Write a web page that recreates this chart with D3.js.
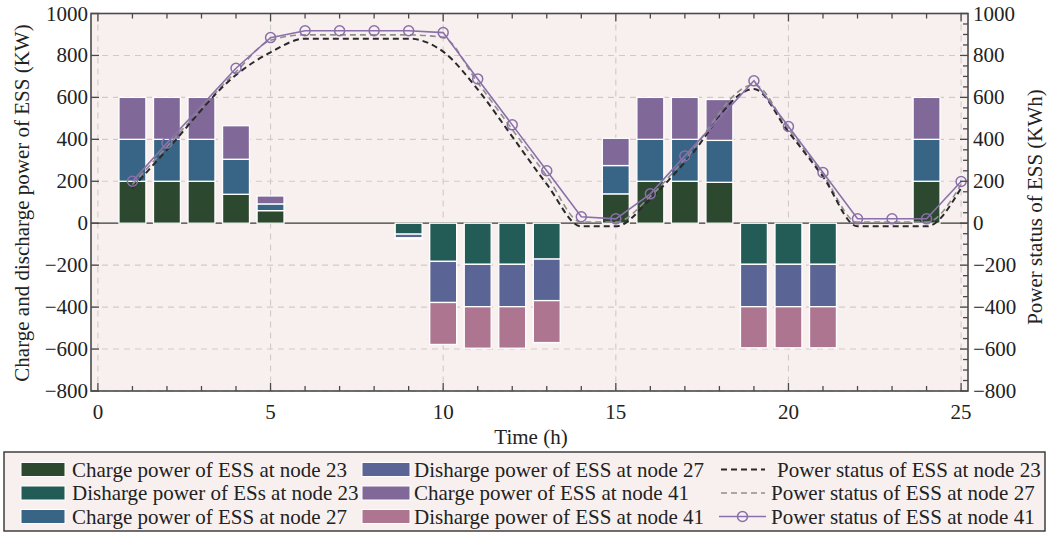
<!DOCTYPE html>
<html>
<head>
<meta charset="utf-8">
<script src="https://cdn.jsdelivr.net/npm/d3@7"></script>
<style>
  html, body { margin: 0; padding: 0; background: #ffffff; }
  svg { display: block; }
  text { font-family: "Liberation Serif", "Times New Roman", serif; fill: #222; }
</style>
</head>
<body>
<svg id="chart" width="1049" height="534"></svg>
<script>
// Hours of the day at which ESS charge / discharge power is scheduled
const hours = [1,2,3,4,5,6,7,8,9,10,11,12,13,14,15,16,17,18,19,20,21,22,23,24];

// Charge power (KW), positive
const charge23 = [200,200,200,138,60,0,0,0,0,0,0,0,0,0,140,200,200,195,0,0,0,0,0,200];
const charge27 = [200,200,200,167,32,0,0,0,0,0,0,0,0,0,135,200,200,200,0,0,0,0,0,200];
const charge41 = [200,200,200,160,38,0,0,0,0,0,0,0,0,0,130,200,200,195,0,0,0,0,0,200];

// Discharge power (KW), negative
const discharge23 = [0,0,0,0,0,0,0,0,-52,-182,-196,-196,-171,0,0,0,0,0,-196,-196,-196,0,0,0];
const discharge27 = [0,0,0,0,0,0,0,0,-18,-196,-202,-202,-198,0,0,0,0,0,-202,-202,-202,0,0,0];
const discharge41 = [0,0,0,0,0,0,0,0,-6,-200,-198,-198,-200,0,0,0,0,0,-196,-196,-196,0,0,0];

// Stored energy of each ESS (KWh)
const statusHours = [1,2,4,5,6,7,8,9,10,11,12,13,14,15,16,17,19,20,21,22,23,24,25];
const status23 = [168,350,707,815,880,880,880,880,818,638,413,186,-15,-15,115,290,640,435,222,-15,-15,-15,168];
const status27 = [185,365,722,872,898,898,898,898,885,670,447,225,5,5,128,305,660,448,232,5,5,5,185];
const status41 = [200,382,739,885,918,918,918,918,909,688,469,250,31,21,140,321,679,461,242,21,21,21,199];

// Axis ticks
const xTicks = [0,5,10,15,20,25];
const yTicks = [-800,-600,-400,-200,0,200,400,600,800,1000];

const barKeys = ["c23","d23","c27","d27","c41","d41"];
const barColors = {
  c23: "#2c482e", d23: "#235c57",
  c27: "#386585", d27: "#5a6595",
  c41: "#806898", d41: "#ae7591"
};
const barLabels = {
  c23: "Charge power of ESS at node 23",
  d23: "Disharge power of ESs at node 23",
  c27: "Charge power of ESS at node 27",
  d27: "Disharge power of ESS at node 27",
  c41: "Charge power of ESS at node 41",
  d41: "Disharge power of ESS at node 41"
};
const lineLabels = [
  "Power status of ESS at node 23",
  "Power status of ESS at node 27",
  "Power status of ESS at node 41"
];

const rows = hours.map((h, i) => ({
  hour: h,
  c23: charge23[i], d23: discharge23[i],
  c27: charge27[i], d27: discharge27[i],
  c41: charge41[i], d41: discharge41[i]
}));

const svg = d3.select("#chart");
const plot = { left: 91, right: 968, top: 13.5, bottom: 391 };

const x = d3.scaleLinear().domain([-0.2, 25.2]).range([plot.left, plot.right]);
const y = d3.scaleLinear().domain([-800, 1000]).range([plot.bottom, plot.top]);

// Plot background
svg.append("rect")
  .attr("x", plot.left).attr("y", plot.top)
  .attr("width", plot.right - plot.left).attr("height", plot.bottom - plot.top)
  .attr("fill", "#f8f0ef");

// Grid
const grid = svg.append("g").attr("stroke", "#cfcaca").attr("stroke-width", 1.1)
  .attr("stroke-dasharray", "6,5");
grid.selectAll("line.v").data(xTicks).join("line")
  .attr("x1", d => x(d)).attr("x2", d => x(d))
  .attr("y1", plot.top).attr("y2", plot.bottom);
grid.selectAll("line.h").data(yTicks.filter(v => v !== 0)).join("line")
  .attr("x1", plot.left).attr("x2", plot.right)
  .attr("y1", d => y(d)).attr("y2", d => y(d));

// Zero baseline
svg.append("line")
  .attr("x1", plot.left).attr("x2", plot.right)
  .attr("y1", y(0)).attr("y2", y(0))
  .attr("stroke", "#3a3a3a").attr("stroke-width", 1.2);

// Stacked bars (charge above zero, discharge below)
const stack = d3.stack().keys(barKeys).offset(d3.stackOffsetDiverging);
const series = stack(rows);
const barW = x(0.78) - x(0);

svg.append("g").selectAll("g").data(series).join("g")
  .attr("fill", d => barColors[d.key])
  .selectAll("rect").data(d => d).join("rect")
  .attr("x", d => x(d.data.hour) - barW / 2)
  .attr("width", barW)
  .attr("y", d => y(Math.max(d[0], d[1])))
  .attr("height", d => Math.abs(y(d[0]) - y(d[1])))
  .attr("stroke", "#ffffff").attr("stroke-width", 1.3);

// Power status lines
const pts = vals => statusHours.map((h, i) => [h, vals[i]]);
const smooth = d3.line().x(d => x(d[0])).y(d => y(d[1])).curve(d3.curveMonotoneX);
const straight = d3.line().x(d => x(d[0])).y(d => y(d[1]));

svg.append("path").attr("d", smooth(pts(status27)))
  .attr("fill", "none").attr("stroke", "#8e8e8e").attr("stroke-width", 1.6)
  .attr("stroke-dasharray", "6,4");
svg.append("path").attr("d", smooth(pts(status23)))
  .attr("fill", "none").attr("stroke", "#2a2a2a").attr("stroke-width", 2)
  .attr("stroke-dasharray", "6,4");
svg.append("path").attr("d", straight(pts(status41)))
  .attr("fill", "none").attr("stroke", "#8a70aa").attr("stroke-width", 1.6);
svg.append("g").selectAll("circle").data(pts(status41)).join("circle")
  .attr("cx", d => x(d[0])).attr("cy", d => y(d[1])).attr("r", 5)
  .attr("fill", "none").attr("stroke", "#8a70aa").attr("stroke-width", 1.5);

// Frame and ticks
const axisColor = "#4a4a4a";
const frame = svg.append("g").attr("stroke", axisColor);
frame.append("rect")
  .attr("x", plot.left).attr("y", plot.top)
  .attr("width", plot.right - plot.left).attr("height", plot.bottom - plot.top)
  .attr("fill", "none").attr("stroke-width", 1.6);

const xMinor = d3.range(0, 26);
// bottom and top ticks point inward
frame.selectAll("line.xb").data(xMinor).join("line")
  .attr("x1", d => x(d)).attr("x2", d => x(d))
  .attr("y1", plot.bottom).attr("y2", d => plot.bottom - (d % 5 === 0 ? 8 : 5))
  .attr("stroke-width", 1.3);
frame.selectAll("line.xt").data(xMinor).join("line")
  .attr("x1", d => x(d)).attr("x2", d => x(d))
  .attr("y1", plot.top).attr("y2", d => plot.top + (d % 5 === 0 ? 8 : 5))
  .attr("stroke-width", 1.3);
// left ticks
frame.selectAll("line.yl").data(yTicks).join("line")
  .attr("x1", plot.left).attr("x2", plot.left + 8)
  .attr("y1", d => y(d)).attr("y2", d => y(d))
  .attr("stroke-width", 1.3);
// right ticks, with minor steps of 50
const yMinor = d3.range(-800, 1001, 50);
frame.selectAll("line.yr").data(yMinor).join("line")
  .attr("x1", plot.right).attr("x2", d => plot.right - (d % 200 === 0 ? 8 : 5))
  .attr("y1", d => y(d)).attr("y2", d => y(d))
  .attr("stroke-width", 1.3);

// Tick labels
const fmt = d3.format("d");
const fs = 21;
svg.append("g").selectAll("text").data(xTicks).join("text")
  .attr("x", d => x(d)).attr("y", 419)
  .attr("text-anchor", "middle").attr("font-size", fs).text(fmt);
svg.append("g").selectAll("text").data(yTicks).join("text")
  .attr("x", 88).attr("y", d => y(d) + 7)
  .attr("text-anchor", "end").attr("font-size", fs).text(fmt);
svg.append("g").selectAll("text").data(yTicks).join("text")
  .attr("x", 973).attr("y", d => y(d) + 7)
  .attr("text-anchor", "start").attr("font-size", fs).text(fmt);

// Axis titles
svg.append("text").attr("x", 531).attr("y", 444)
  .attr("text-anchor", "middle").attr("font-size", fs).text("Time (h)");
svg.append("text")
  .attr("transform", `translate(29,203) rotate(-90)`)
  .attr("text-anchor", "middle").attr("font-size", fs)
  .text("Charge and discharge power of ESS (KW)");
svg.append("text")
  .attr("transform", `translate(1042,207) rotate(-90)`)
  .attr("text-anchor", "middle").attr("font-size", fs)
  .text("Power status of ESS (KWh)");

// Legend
const lg = svg.append("g");
lg.append("rect").attr("x", 4).attr("y", 452).attr("width", 1041).attr("height", 79)
  .attr("fill", "#f8f0ef").attr("stroke", "#333").attr("stroke-width", 1.4);

const rowY = [469.5, 493, 516.5];
const cols = [
  { sx: 21, sw: 44, tx: 72, keys: ["c23", "d23", "c27"] },
  { sx: 362, sw: 48, tx: 414, keys: ["d27", "c41", "d41"] }
];
cols.forEach(c => {
  c.keys.forEach((k, i) => {
    lg.append("rect").attr("x", c.sx).attr("y", rowY[i] - 7).attr("width", c.sw).attr("height", 14)
      .attr("fill", barColors[k]).attr("stroke", "#ffffff").attr("stroke-width", 1);
    lg.append("text").attr("x", c.tx).attr("y", rowY[i] + 7)
      .attr("font-size", fs).text(barLabels[k]);
  });
});
// line entries
lg.append("line").attr("x1", 721).attr("x2", 765).attr("y1", rowY[0]).attr("y2", rowY[0])
  .attr("stroke", "#2a2a2a").attr("stroke-width", 2).attr("stroke-dasharray", "6,4");
lg.append("line").attr("x1", 721).attr("x2", 765).attr("y1", rowY[1]).attr("y2", rowY[1])
  .attr("stroke", "#8e8e8e").attr("stroke-width", 1.4).attr("stroke-dasharray", "6,4");
lg.append("line").attr("x1", 719).attr("x2", 766).attr("y1", rowY[2]).attr("y2", rowY[2])
  .attr("stroke", "#8a70aa").attr("stroke-width", 1.6);
lg.append("circle").attr("cx", 742.5).attr("cy", rowY[2]).attr("r", 5)
  .attr("fill", "none").attr("stroke", "#8a70aa").attr("stroke-width", 1.5);
[777, 771, 771].forEach((tx, i) => {
  lg.append("text").attr("x", tx).attr("y", rowY[i] + 7)
    .attr("font-size", fs).text(lineLabels[i]);
});
</script>
</body>
</html>
